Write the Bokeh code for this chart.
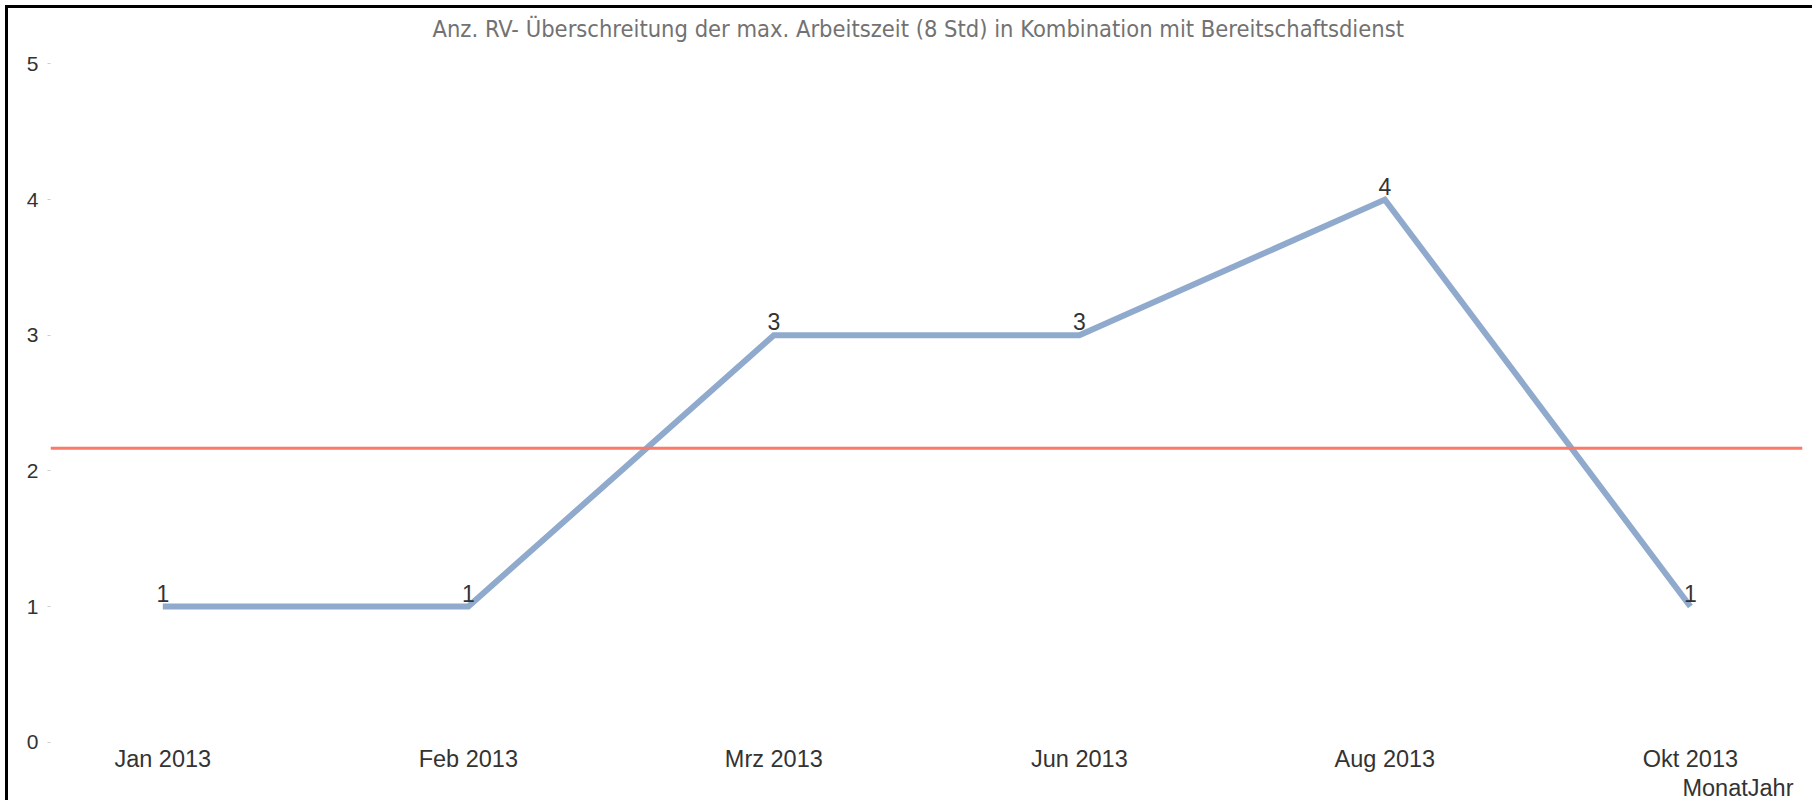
from bokeh.plotting import figure
from bokeh.models import Range1d, FixedTicker, Span, Title, ColumnDataSource
from bokeh.core.properties import value
from bokeh.embed import file_html
from bokeh.resources import INLINE

# ---- data ----
months = ["Jan 2013", "Feb 2013", "Mrz 2013", "Jun 2013", "Aug 2013", "Okt 2013"]
counts = [1, 1, 3, 3, 4, 1]
y_ticks = [0, 1, 2, 3, 4, 5]
title_text = "Anz. RV- Überschreitung der max. Arbeitszeit (8 Std) in Kombination mit Bereitschaftsdienst"
x_label = "MonatJahr"

idx = list(range(len(months)))
avg = sum(counts) / len(counts)

src = ColumnDataSource(dict(x=idx, y=counts, lbl=[str(c) for c in counts]))

p = figure(width=1807, height=795, output_backend="svg", toolbar_location=None,
           x_range=Range1d(-0.3676, 5.367), y_range=Range1d(-0.017, 5.136),
           min_border_left=42, min_border_right=13, min_border_top=37, min_border_bottom=59)
p.styles = {"border-left": "3px solid black", "border-top": "3px solid black",
            "margin-left": "5px", "margin-top": "5px"}

p.title.text = title_text
p.title.align = "left"
p.title.offset = 382
p.title.text_font = "DejaVu Sans Condensed"
p.title.text_font_size = "23.5px"
p.title.text_font_style = "normal"
p.title.text_color = "#727272"
p.title.standoff = 6

p.outline_line_color = None
p.xgrid.grid_line_color = None
p.ygrid.grid_line_color = None
p.background_fill_color = "white"
p.border_fill_color = "white"

# average line
p.add_layout(Span(location=avg, dimension="width", line_color="#FA7A6A", line_width=3))

p.line("x", "y", source=src, line_width=6, line_color="#8FAACC", line_join="miter", line_cap="butt")
p.text("x", "y", text="lbl", source=src, text_align="center", text_baseline="bottom",
       y_offset=-5, text_font=value("Liberation Sans"), text_font_size="23px", text_color="#333333")

# y axis
ya = p.yaxis[0]
ya.ticker = FixedTicker(ticks=y_ticks)
ya.axis_line_color = None
ya.major_tick_line_color = "#cccccc"
ya.major_tick_out = 3
ya.major_tick_in = 0
ya.minor_tick_line_color = None
ya.major_label_standoff = 9
ya.major_label_text_font = "Liberation Sans"
ya.major_label_text_font_size = "21px"
ya.major_label_text_color = "#333333"

# x axis
xa = p.xaxis[0]
xa.ticker = FixedTicker(ticks=idx)
xa.major_label_overrides = {i: m for i, m in zip(idx, months)}
xa.axis_line_color = None
xa.major_tick_line_color = None
xa.major_tick_out = 0
xa.major_tick_in = 0
xa.minor_tick_line_color = None
xa.major_label_standoff = 1
xa.major_label_text_font = "Liberation Sans"
xa.major_label_text_font_size = "23.5px"
xa.major_label_text_color = "#333333"

p.add_layout(Title(text=x_label, align="right", text_font="Liberation Sans",
                   text_font_size="23.5px", text_font_style="normal",
                   text_color="#333333", standoff=-4, offset=9), "below")

open("out.html", "w").write(file_html(p, INLINE))
